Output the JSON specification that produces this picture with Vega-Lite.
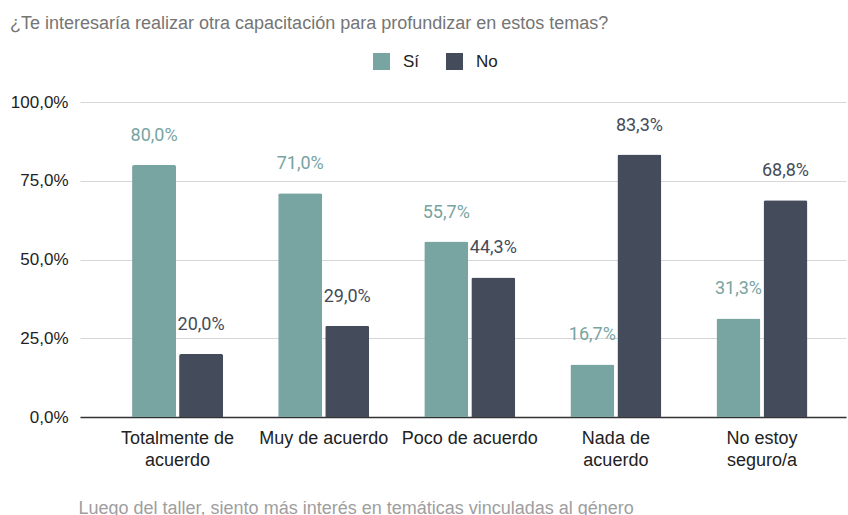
{
  "$schema": "https://vega.github.io/schema/vega-lite/v6.json",
  "autosize": "none",
  "width": 766,
  "height": 315,
  "padding": {"left": 80, "top": 102, "right": 2, "bottom": 98},
  "background": "white",
  "config": {
    "locale": {"number": {"decimal": ",", "thousands": ".", "grouping": [3], "currency": ["", " €"]}},
    "view": {"stroke": null},
    "font": "Liberation Sans"
  },
  "title": {
    "text": "¿Te interesaría realizar otra capacitación para profundizar en estos temas?",
    "anchor": "start",
    "frame": "group",
    "dx": -70,
    "offset": 20,
    "font": "Liberation Sans",
    "fontSize": 18,
    "fontWeight": "normal",
    "color": "#757575"
  },
  "data": {
    "values": [
      {"categoria": "Totalmente de acuerdo", "respuesta": "Sí", "valor": 0.8},
      {"categoria": "Totalmente de acuerdo", "respuesta": "No", "valor": 0.2},
      {"categoria": "Muy de acuerdo", "respuesta": "Sí", "valor": 0.71},
      {"categoria": "Muy de acuerdo", "respuesta": "No", "valor": 0.29},
      {"categoria": "Poco de acuerdo", "respuesta": "Sí", "valor": 0.557},
      {"categoria": "Poco de acuerdo", "respuesta": "No", "valor": 0.443},
      {"categoria": "Nada de acuerdo", "respuesta": "Sí", "valor": 0.167},
      {"categoria": "Nada de acuerdo", "respuesta": "No", "valor": 0.833},
      {"categoria": "No estoy seguro/a", "respuesta": "Sí", "valor": 0.313},
      {"categoria": "No estoy seguro/a", "respuesta": "No", "valor": 0.688}
    ]
  },
  "encoding": {
    "x": {
      "field": "categoria",
      "type": "nominal",
      "sort": null,
      "scale": {"paddingInner": 0.377, "paddingOuter": 0.31, "align": 0.575},
      "axis": {
        "title": "Luego del taller, siento más interés en temáticas vinculadas al género",
        "titleAnchor": "start",
        "titleFont": "Liberation Sans",
        "titleFontSize": 18,
        "titleFontWeight": "normal",
        "titleColor": "#9e9e9e",
        "titlePadding": 30,
        "titleX": -2,
        "labelAngle": 0,
        "labelFont": "Liberation Sans",
        "labelFontSize": 18,
        "labelColor": "#222222",
        "labelPadding": 12,
        "labelLineHeight": 22,
        "labelExpr": "datum.value == 'Totalmente de acuerdo' ? ['Totalmente de', 'acuerdo'] : datum.value == 'Nada de acuerdo' ? ['Nada de', 'acuerdo'] : datum.value == 'No estoy seguro/a' ? ['No estoy', 'seguro/a'] : datum.value",
        "ticks": false,
        "domainColor": "#333333",
        "domainWidth": 1.3,
        "grid": false
      }
    },
    "xOffset": {
      "field": "respuesta",
      "type": "nominal",
      "sort": ["Sí", "No"],
      "scale": {"paddingInner": 0.065, "paddingOuter": 0}
    },
    "y": {
      "field": "valor",
      "type": "quantitative",
      "scale": {"domain": [0, 1]},
      "axis": {
        "title": null,
        "values": [0, 0.25, 0.5, 0.75, 1],
        "format": ".1%",
        "labelFont": "Liberation Sans",
        "labelFontSize": 17,
        "labelColor": "#222222",
        "labelPadding": 12,
        "ticks": false,
        "domain": false,
        "gridColor": "#d6d6d6",
        "gridWidth": 1
      }
    },
    "color": {
      "field": "respuesta",
      "type": "nominal",
      "sort": ["Sí", "No"],
      "scale": {"domain": ["Sí", "No"], "range": ["#78a4a1", "#444b5a"]},
      "legend": {
        "title": null,
        "orient": "none",
        "direction": "horizontal",
        "legendX": 293,
        "legendY": -49,
        "symbolType": "square",
        "symbolSize": 289,
        "symbolStrokeWidth": 0,
        "labelFont": "Liberation Sans",
        "labelFontSize": 17,
        "labelColor": "#222222",
        "labelOffset": 13,
        "columnPadding": 26
      }
    }
  },
  "layer": [
    {
      "mark": {"type": "bar", "cornerRadiusTopLeft": 2, "cornerRadiusTopRight": 2}
    },
    {
      "mark": {"type": "text", "baseline": "middle", "dy": -29, "font": "Roboto", "fontSize": 18},
      "encoding": {
        "text": {"field": "valor", "type": "quantitative", "format": ".1%"}
      }
    }
  ]
}
